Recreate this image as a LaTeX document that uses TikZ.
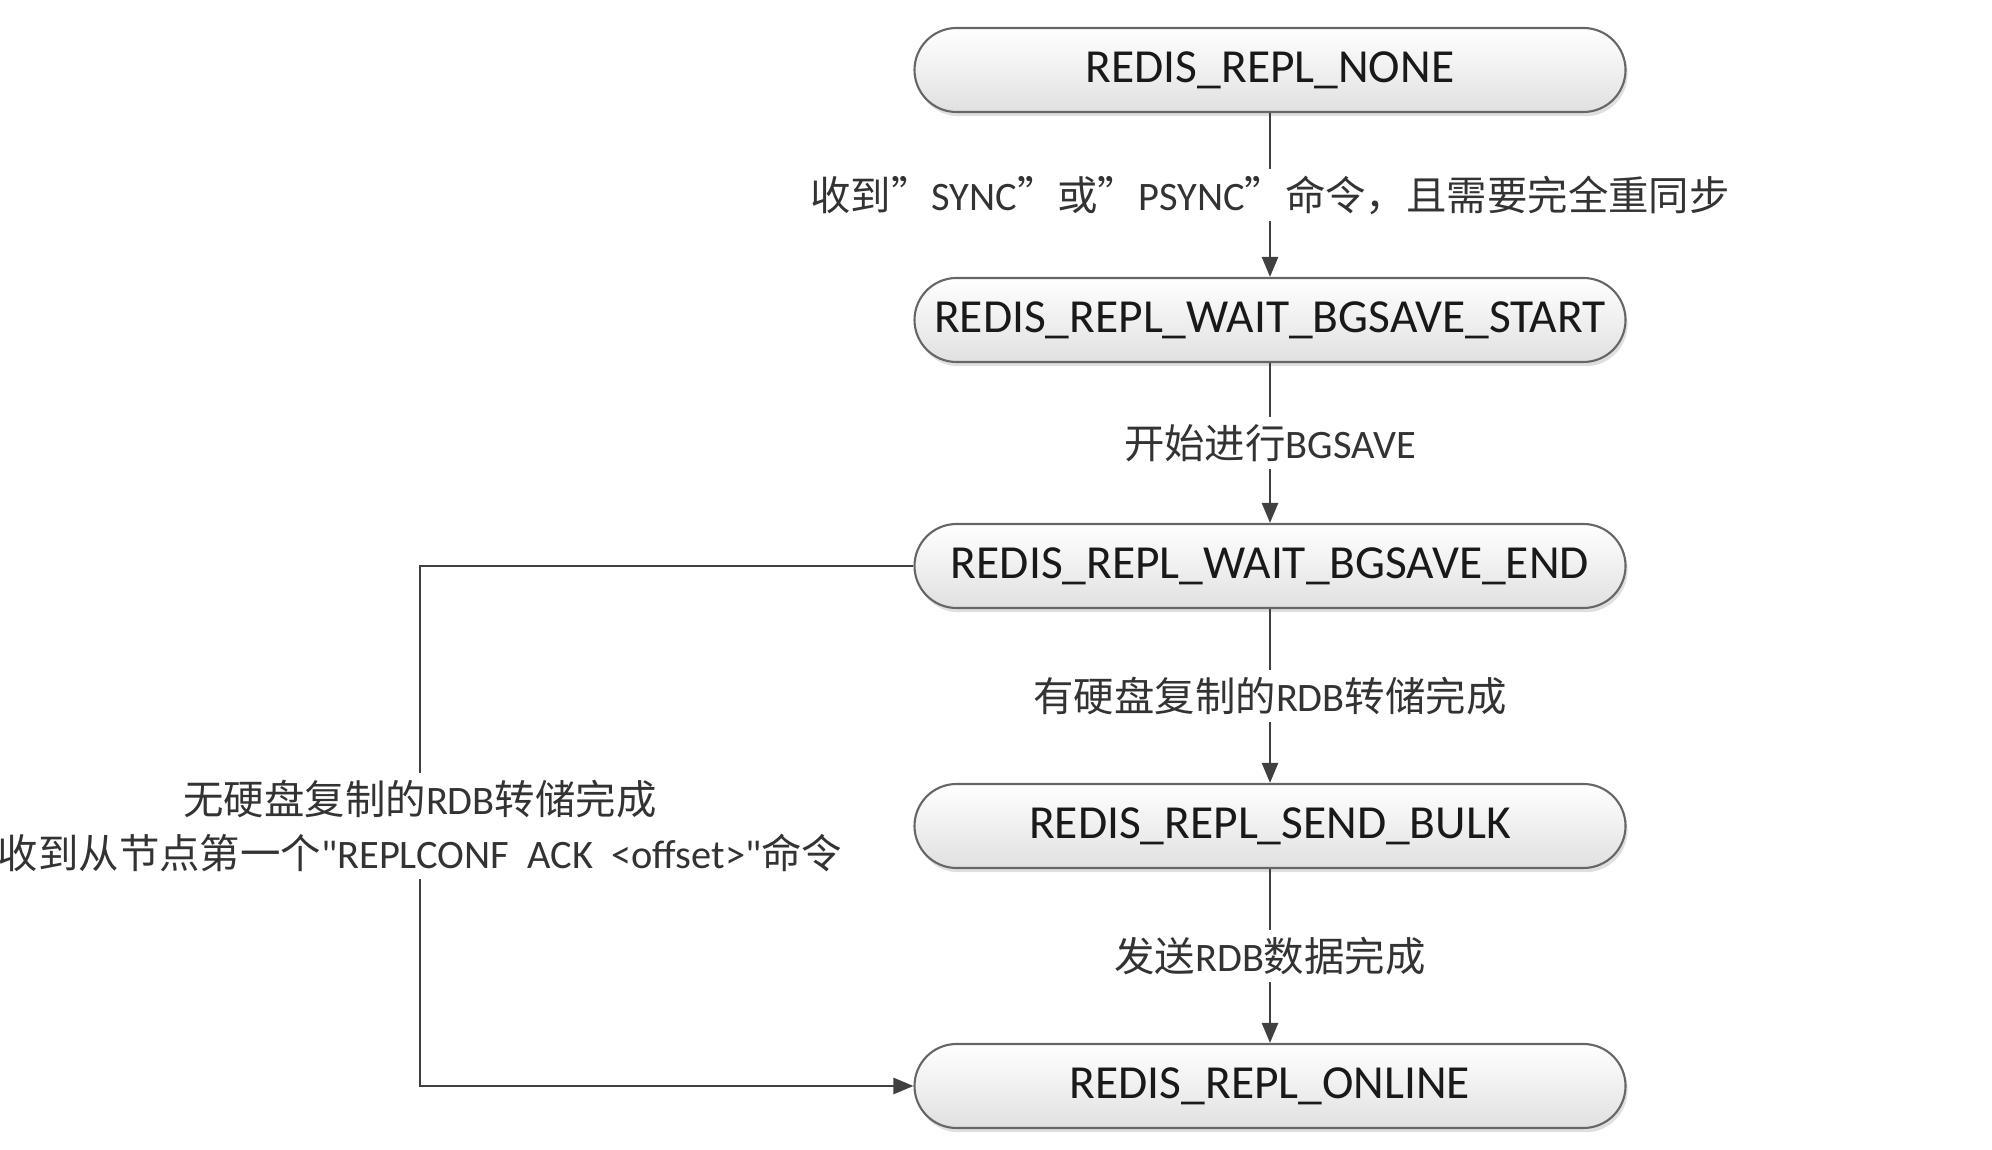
\documentclass[tikz,border=0pt]{standalone}
\usepackage{fontspec}
\setmainfont{Carlito}
\newfontfamily\cjk{Noto Sans CJK SC}
\newcommand{\zh}[1]{{\cjk #1}}
\usetikzlibrary{arrows.meta, shadows}

\definecolor{linegray}{HTML}{404040}

\begin{document}
\begin{tikzpicture}[
    state/.style={draw=black!60, line width=0.6pt, rounded corners=0.42cm,
        minimum width=7.11cm, minimum height=0.84cm,
        top color=white, bottom color=black!12,
        drop shadow={shadow xshift=0.6pt, shadow yshift=-1.2pt, fill=black!25},
        font=\fontsize{13.5}{16}\selectfont, text=black!90},
    cond/.style={fill=white, inner sep=2pt, align=center,
        font=\fontsize{11.5}{15.3}\selectfont, text=black!80},
    flow/.style={draw=linegray, line width=0.75pt,
        -{Triangle[length=2mm, width=1.6mm]}}
]
    \useasboundingbox (0,0) rectangle (19.92,-11.5);

    % Replication states
    \node[state] (none)   at (12.70,-0.70)  {REDIS\_REPL\_NONE};
    \node[state] (start)  at (12.70,-3.20)  {REDIS\_REPL\_WAIT\_BGSAVE\_START};
    \node[state] (end)    at (12.70,-5.66)  {REDIS\_REPL\_WAIT\_BGSAVE\_END};
    \node[state] (bulk)   at (12.70,-8.26)  {REDIS\_REPL\_SEND\_BULK};
    \node[state] (online) at (12.70,-10.86) {REDIS\_REPL\_ONLINE};

    % Main transitions
    \draw[flow] (none) -- node[cond] {\zh{收到”}SYNC\zh{”或”}PSYNC\zh{”命令，且需要完全重同步}} (start);
    \draw[flow] (start) -- node[cond] {\zh{开始进行}BGSAVE} (end);
    \draw[flow] (end) -- node[cond] {\zh{有硬盘复制的}RDB\zh{转储完成}} (bulk);
    \draw[flow] (bulk) -- node[cond] {\zh{发送}RDB\zh{数据完成}} (online);

    % Diskless shortcut
    \coordinate (bend) at (4.20,-5.66);
    \draw[flow] (end.west) -- (bend) |- node[cond, pos=0.25]
        {\zh{无硬盘复制的}RDB\zh{转储完成}\\
         \zh{收到从节点第一个}\textquotedbl REPLCONF\ \ ACK\ \ <offset>\textquotedbl\zh{命令}} (online.west);
\end{tikzpicture}
\end{document}
